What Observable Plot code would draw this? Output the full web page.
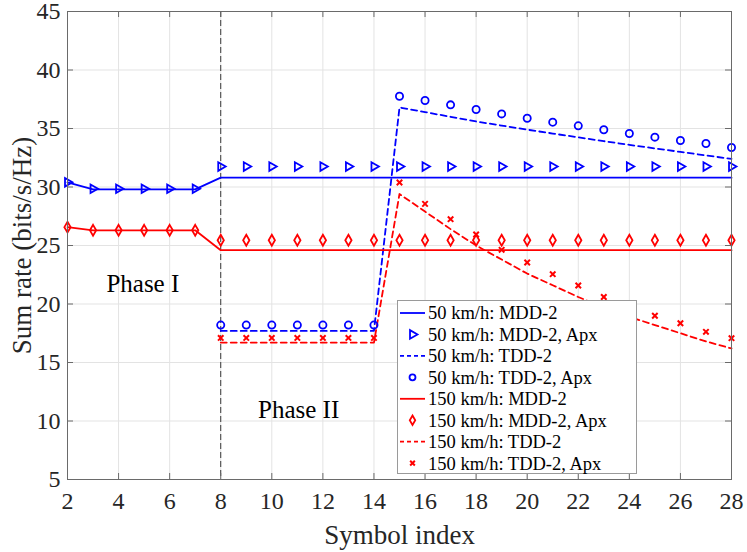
<!DOCTYPE html>
<html>
<head>
<meta charset="utf-8">
<script src="https://cdn.jsdelivr.net/npm/d3@7"></script>
<script src="https://cdn.jsdelivr.net/npm/@observablehq/plot@0.6"></script>
<style>
  html, body { margin: 0; padding: 0; background: white; }
  #wrap { position: relative; width: 747px; height: 552px; }
  #wrap svg, #wrap svg text { font-family: "Liberation Serif", "Times New Roman", Times, serif !important; }
  #legend { position: absolute; left: 397px; top: 300px; }
</style>
</head>
<body>
<div id="wrap"></div>
<script>
// ---------- data ----------
const symbolIndex = [2,3,4,5,6,7,8,9,10,11,12,13,14,15,16,17,18,19,20,21,22,23,24,25,26,27,28];
const phase2Index = [8,9,10,11,12,13,14,15,16,17,18,19,20,21,22,23,24,25,26,27,28];

const mdd50     = [30.4,29.8,29.8,29.8,29.8,29.8,30.8,30.8,30.8,30.8,30.8,30.8,30.8,30.8,30.8,30.8,30.8,30.8,30.8,30.8,30.8,30.8,30.8,30.8,30.8,30.8,30.8];
const mdd50Apx  = [30.4,29.85,29.85,29.85,29.85,29.85,31.75,31.75,31.75,31.75,31.75,31.75,31.75,31.75,31.75,31.75,31.75,31.75,31.75,31.75,31.75,31.75,31.75,31.75,31.75,31.75,31.75];
const tdd50     = [17.7,17.7,17.7,17.7,17.7,17.7,17.7,36.8,36.4,36.0,35.6,35.25,34.9,34.57,34.24,33.92,33.6,33.3,33.0,32.7,32.4];
const tdd50Apx  = [18.2,18.2,18.2,18.2,18.2,18.2,18.2,37.76,37.39,37.02,36.62,36.25,35.88,35.54,35.23,34.89,34.57,34.26,33.97,33.72,33.38];
const mdd150    = [26.57,26.3,26.3,26.3,26.3,26.3,24.6,24.6,24.6,24.6,24.6,24.6,24.6,24.6,24.6,24.6,24.6,24.6,24.6,24.6,24.6,24.6,24.6,24.6,24.6,24.6,24.6];
const mdd150Apx = [26.57,26.3,26.3,26.3,26.3,26.3,25.45,25.45,25.45,25.45,25.45,25.45,25.45,25.45,25.45,25.45,25.45,25.45,25.45,25.45,25.45,25.45,25.45,25.45,25.45,25.45,25.45];
const tdd150    = [16.7,16.7,16.7,16.7,16.7,16.7,16.7,29.4,27.9,26.4,25.0,23.8,22.6,21.6,20.6,19.7,18.9,18.2,17.5,16.8,16.2];
const tdd150Apx = [17.1,17.1,17.1,17.1,17.1,17.1,17.1,30.38,28.56,27.25,25.94,24.63,23.55,22.55,21.58,20.6,19.75,19.0,18.36,17.62,17.08];

const xTicks = [2,4,6,8,10,12,14,16,18,20,22,24,26,28];
const yTicks = [5,10,15,20,25,30,35,40,45];
const phaseBoundary = [8];
const phaseLabels = [
  {x: 4.95, y: 21.75, text: "Phase I"},
  {x: 11.05, y: 10.9, text: "Phase II"}
];
const legendLabels = [
  "50 km/h: MDD-2", "50 km/h: MDD-2, Apx", "50 km/h: TDD-2", "50 km/h: TDD-2, Apx",
  "150 km/h: MDD-2", "150 km/h: MDD-2, Apx", "150 km/h: TDD-2", "150 km/h: TDD-2, Apx"
];

// ---------- build tables ----------
const zip = (xs, ys) => xs.map((x, i) => ({x, y: ys[i]}));
const BLUE = "#0000ff", RED = "#ff0000";
const W = 747, H = 552, ML = 67, MR = 16, MT = 11, MB = 73;
const innerW = W - ML - MR, innerH = H - MT - MB;
const FONT = "'Liberation Serif', 'Times New Roman', Times, serif";
const dash = "6,4";

const chart = Plot.plot({
  width: W, height: H,
  marginLeft: ML, marginRight: MR, marginTop: MT, marginBottom: MB,
  style: {fontFamily: FONT, background: "white", color: "#262626", overflow: "visible"},
  x: {domain: [2, 28]},
  y: {domain: [5, 45]},
  marks: [
    Plot.gridX(xTicks, {stroke: "#e3e3e3", strokeOpacity: 1}),
    Plot.gridY(yTicks, {stroke: "#e3e3e3", strokeOpacity: 1}),
    Plot.ruleX(phaseBoundary, {stroke: "#3a3a3a", strokeWidth: 1, strokeDasharray: "6,3"}),

    Plot.line(zip(symbolIndex, mdd50), {x: "x", y: "y", stroke: BLUE, strokeWidth: 1.8}),
    Plot.line(zip(phase2Index, tdd50), {x: "x", y: "y", stroke: BLUE, strokeWidth: 1.8, strokeDasharray: dash}),
    Plot.line(zip(symbolIndex, mdd150), {x: "x", y: "y", stroke: RED, strokeWidth: 1.8}),
    Plot.line(zip(phase2Index, tdd150), {x: "x", y: "y", stroke: RED, strokeWidth: 1.8, strokeDasharray: dash}),

    Plot.dot(zip(symbolIndex, mdd50Apx), {x: "x", y: "y", symbol: "triangle", rotate: 90, r: 3.2, stroke: BLUE, strokeWidth: 1.8}),
    Plot.dot(zip(phase2Index, tdd50Apx), {x: "x", y: "y", symbol: "circle", r: 3.6, stroke: BLUE, strokeWidth: 1.8}),
    Plot.dot(zip(symbolIndex, mdd150Apx), {x: "x", y: "y", symbol: "diamond", r: 3.3, stroke: RED, strokeWidth: 1.8}),
    Plot.dot(zip(phase2Index, tdd150Apx), {x: "x", y: "y", symbol: "times", r: 2.6, stroke: RED, strokeWidth: 2}),

    Plot.text(phaseLabels, {x: "x", y: "y", text: "text", fontSize: 25, fill: "black", fontFamily: FONT}),

    Plot.frame({stroke: "#6a6a6a", strokeWidth: 1}),
    Plot.tickX(xTicks, {x: d => d, insetTop: innerH - 6, stroke: "#6a6a6a"}),
    Plot.tickX(xTicks, {x: d => d, insetBottom: innerH - 6, stroke: "#6a6a6a"}),
    Plot.tickY(yTicks, {y: d => d, insetRight: innerW - 6, stroke: "#6a6a6a"}),
    Plot.tickY(yTicks, {y: d => d, insetLeft: innerW - 6, stroke: "#6a6a6a"}),

    Plot.axisX(xTicks, {tickSize: 0, tickPadding: 12, fontSize: 24, label: null, fill: "#262626", fontFamily: FONT}),
    Plot.axisY(yTicks, {tickSize: 0, tickPadding: 7, fontSize: 24, label: null, fill: "#262626", fontFamily: FONT}),
    Plot.text(["Symbol index"], {frameAnchor: "bottom", textAnchor: "middle", lineAnchor: "middle", dy: 56, fontSize: 27, fill: "#262626", fontFamily: FONT}),
    Plot.text(["Sum rate (bits/s/Hz)"], {frameAnchor: "left", textAnchor: "middle", lineAnchor: "middle", dx: -45, rotate: -90, fontSize: 27, fill: "#262626", fontFamily: FONT})
  ]
});
document.getElementById("wrap").appendChild(chart);

// ---------- legend ----------
const LW = 239, LH = 173, rowH = 21.45, row0 = 13;
const legendSpec = [
  {stroke: BLUE, dash: null, sym: null},
  {stroke: BLUE, dash: null, sym: "triangle"},
  {stroke: BLUE, dash: "4,3", sym: null},
  {stroke: BLUE, dash: null, sym: "circle"},
  {stroke: RED, dash: null, sym: null},
  {stroke: RED, dash: null, sym: "diamond"},
  {stroke: RED, dash: "4,3", sym: null},
  {stroke: RED, dash: null, sym: "times"}
];
const lg = d3.select("#wrap").append("svg")
  .attr("id", "legend").attr("width", LW + 1).attr("height", LH + 1);
lg.append("rect").attr("x", 0.5).attr("y", 0.5).attr("width", LW).attr("height", LH)
  .attr("fill", "white").attr("stroke", "#9a9a9a");
const symMap = {triangle: d3.symbolTriangle, circle: d3.symbolCircle, diamond: d3.symbolDiamond, times: d3.symbolTimes};
const symSize = {triangle: 32, circle: 28, diamond: 26, times: 16};
legendLabels.forEach((label, i) => {
  const spec = legendSpec[i];
  const cy = row0 + rowH * i;
  if (spec.sym === null) {
    lg.append("line").attr("x1", 3).attr("x2", 28).attr("y1", cy).attr("y2", cy)
      .attr("stroke", spec.stroke).attr("stroke-width", 1.8)
      .attr("stroke-dasharray", spec.dash);
  } else {
    lg.append("path").attr("d", d3.symbol(symMap[spec.sym], symSize[spec.sym])())
      .attr("transform", `translate(15.5,${cy}) rotate(${spec.sym === "triangle" ? 90 : 0})`)
      .attr("fill", "none").attr("stroke", spec.stroke).attr("stroke-width", spec.sym === "times" ? 2 : 1.8);
  }
  lg.append("text").attr("x", 31).attr("y", cy).attr("dy", "0.35em")
    .attr("font-family", FONT).attr("font-size", 18.5).attr("fill", "black").text(label);
});
</script>
</body>
</html>
